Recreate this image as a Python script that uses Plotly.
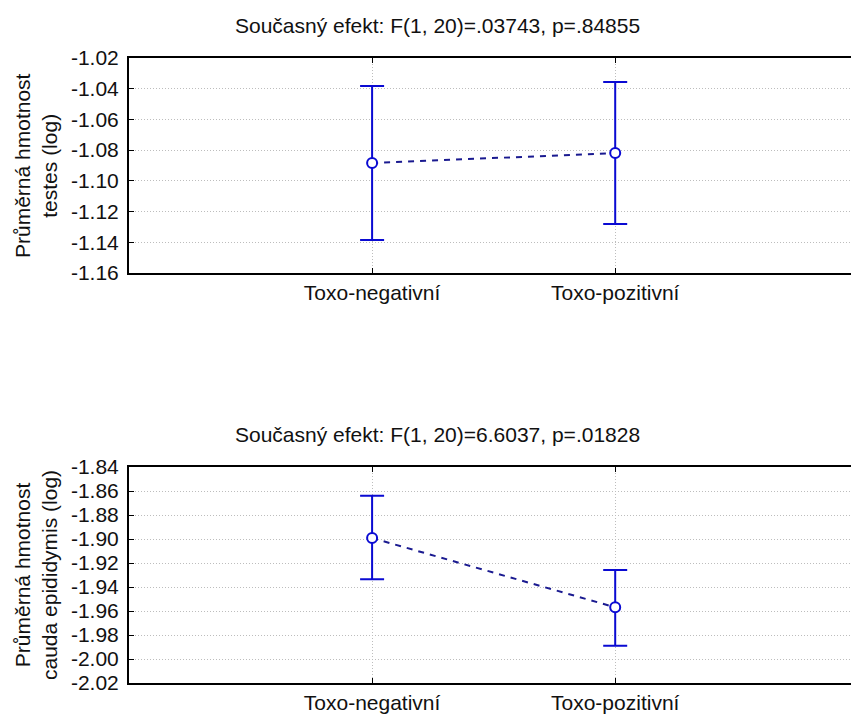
import plotly.graph_objects as go

categories = ["Toxo-negativní", "Toxo-pozitivní"]

# top panel: testes
testes_mean = [-1.0884, -1.0819]
testes_err_plus = [0.0502, 0.0463]
testes_err_minus = [0.0501, 0.0462]
testes_title = "Současný efekt: F(1, 20)=.03743, p=.84855"
testes_ytitle = "Průměrná hmotnost<br>testes (log)"
testes_ticks = [-1.16, -1.14, -1.12, -1.10, -1.08, -1.06, -1.04, -1.02]
testes_ticklabels = ["-1.16", "-1.14", "-1.12", "-1.10", "-1.08", "-1.06", "-1.04", "-1.02"]

# bottom panel: cauda epididymis
cauda_mean = [-1.8992, -1.9569]
cauda_err_plus = [0.0353, 0.0311]
cauda_err_minus = [0.0344, 0.0320]
cauda_title = "Současný efekt: F(1, 20)=6.6037, p=.01828"
cauda_ytitle = "Průměrná hmotnost<br>cauda epididymis (log)"
cauda_ticks = [-2.02, -2.00, -1.98, -1.96, -1.94, -1.92, -1.90, -1.88, -1.86, -1.84]
cauda_ticklabels = ["-2.02", "-2.00", "-1.98", "-1.96", "-1.94", "-1.92", "-1.90", "-1.88", "-1.86", "-1.84"]

W, H = 851, 718
FONT = "Liberation Sans, Arial, sans-serif"
FS = 21
BAR = "#0a0ad2"
LINE = "#1a1a90"

fig = go.Figure()

def add_panel(mean, ep, em, xa, ya):
    fig.add_trace(go.Scatter(
        x=categories, y=mean, xaxis=xa, yaxis=ya,
        mode="lines+markers",
        line=dict(color=LINE, width=2, dash="6px,6px"),
        marker=dict(symbol="circle", size=10, color="white",
                    line=dict(color=BAR, width=2)),
        error_y=dict(type="data", symmetric=False, array=ep, arrayminus=em,
                     color=BAR, thickness=2, width=12),
        showlegend=False,
    ))

add_panel(testes_mean, testes_err_plus, testes_err_minus, "x", "y")
add_panel(cauda_mean, cauda_err_plus, cauda_err_minus, "x2", "y2")

def px_y(top, bottom):
    return [1 - bottom / H, 1 - top / H]

xdom = [129 / W, 1.0]
xcommon = dict(
    type="category", range=[-1, 1.97], domain=xdom, automargin=False,
    showline=True, linecolor="black", linewidth=2, mirror="ticks",
    ticks="inside", ticklen=5, tickcolor="black", tickwidth=1,
    showgrid=True, gridcolor="#bdbdbd", griddash="1px,2px", gridwidth=1,
    tickfont=dict(family=FONT, size=FS, color="#111"),
    zeroline=False, fixedrange=True,
)
ycommon = dict(
    showline=True, linecolor="black", linewidth=2, mirror=False, automargin=False,
    ticks="inside", ticklen=5, tickcolor="black", tickwidth=1,
    showgrid=True, gridcolor="#bdbdbd", griddash="1px,2px", gridwidth=1,
    tickfont=dict(family=FONT, size=FS, color="#111"),
    ticklabelstandoff=4,
    zeroline=False, fixedrange=True,
)

ann_font = dict(family=FONT, size=FS, color="#111")
fig.update_layout(
    width=W, height=H, autosize=False,
    margin=dict(l=0, r=0, t=0, b=0, pad=0),
    paper_bgcolor="white", plot_bgcolor="white",
    xaxis=dict(**xcommon, anchor="y"),
    yaxis=dict(**ycommon, domain=px_y(58, 273), range=[-1.16, -1.02],
               tickvals=testes_ticks, ticktext=testes_ticklabels, anchor="x"),
    xaxis2=dict(**xcommon, anchor="y2"),
    yaxis2=dict(**ycommon, domain=px_y(467, 683), range=[-2.02, -1.84],
                tickvals=cauda_ticks, ticktext=cauda_ticklabels, anchor="x2"),
    annotations=[
        dict(text=testes_title, x=437 / W, y=1 - 25 / H, xref="paper", yref="paper",
             xanchor="center", yanchor="middle", showarrow=False, font=ann_font),
        dict(text=cauda_title, x=437 / W, y=1 - 434 / H, xref="paper", yref="paper",
             xanchor="center", yanchor="middle", showarrow=False, font=ann_font),
        dict(text=testes_ytitle, x=36 / W, y=1 - 166 / H, xref="paper", yref="paper",
             xanchor="center", yanchor="middle",
             textangle=-90, showarrow=False, font=ann_font),
        dict(text=cauda_ytitle, x=36 / W, y=1 - 575 / H, xref="paper", yref="paper",
             xanchor="center", yanchor="middle",
             textangle=-90, showarrow=False, font=ann_font),
    ],
)

fig.write_html("out.html")
